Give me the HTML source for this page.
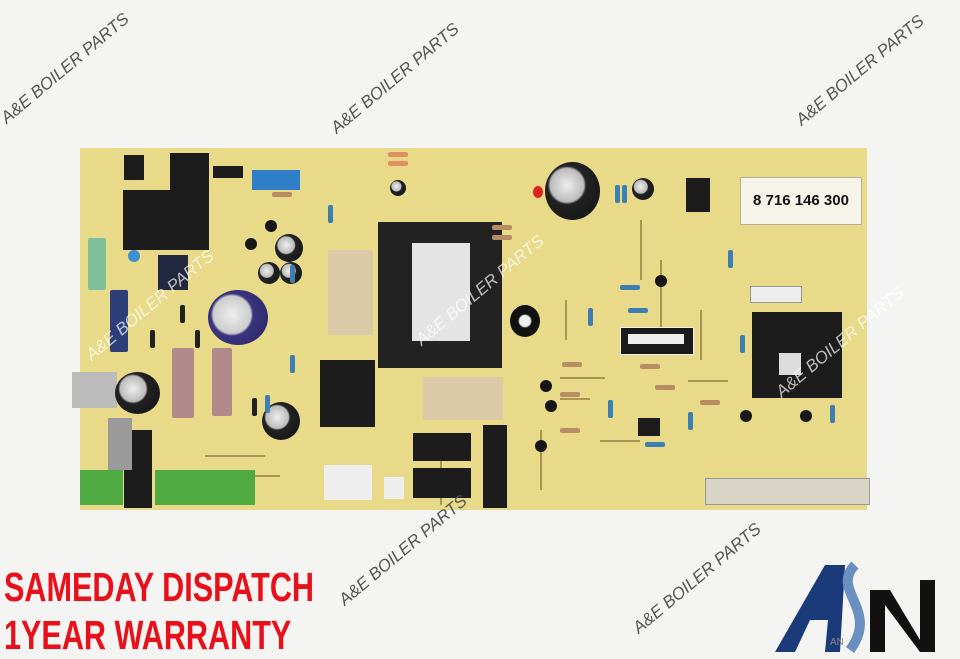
<!DOCTYPE html><html><head><meta charset="utf-8"><style>
*{margin:0;padding:0}
body{width:960px;height:659px;background:#f4f4f2;position:relative;overflow:hidden;font-family:"Liberation Sans",sans-serif}
.a{position:absolute}
.wm{position:absolute;color:#555;font-size:17px;transform:rotate(-40deg);transform-origin:left bottom;white-space:nowrap;font-style:italic}
.r{position:absolute;background:#c9b27a;border-radius:2px}
.rs{position:absolute;width:5px;height:18px;background:#3d7fb0;border-radius:2px}
.rh{position:absolute;width:20px;height:5px;background:#b88d64;border-radius:2px}
.ln{position:absolute;background:#a89550}
.bl{position:absolute;background:#1c1c1c}
.cap{position:absolute;border-radius:50%;background:radial-gradient(circle at 40% 40%,#eee 0,#bbb 35%,#222 40%,#111 100%)}
.tr{position:absolute;width:12px;height:12px;border-radius:50%;background:#161616}
.red{position:absolute;color:#e8101a;font-family:"Liberation Sans Narrow","Liberation Sans",sans-serif;font-weight:bold;font-size:36px;transform:scale(0.85,1.12);transform-origin:left top;white-space:nowrap}
</style></head><body>
<div class="a" style="left:80px;top:148px;width:787px;height:362px;background:#e8da88"></div>
<div class="ln" style="left:540px;top:430px;width:2px;height:60px"></div>
<div class="ln" style="left:600px;top:440px;width:40px;height:2px"></div>
<div class="ln" style="left:640px;top:220px;width:2px;height:60px"></div>
<div class="ln" style="left:660px;top:260px;width:2px;height:80px"></div>
<div class="ln" style="left:700px;top:310px;width:2px;height:50px"></div>
<div class="ln" style="left:205px;top:455px;width:60px;height:2px"></div>
<div class="ln" style="left:230px;top:475px;width:50px;height:2px"></div>
<div class="ln" style="left:560px;top:377px;width:45px;height:2px"></div>
<div class="ln" style="left:560px;top:398px;width:30px;height:2px"></div>
<div class="ln" style="left:688px;top:380px;width:40px;height:2px"></div>
<div class="ln" style="left:565px;top:300px;width:2px;height:40px"></div>
<div class="ln" style="left:440px;top:455px;width:2px;height:50px"></div>
<div class="a" style="left:740px;top:177px;width:120px;height:46px;background:#f6f3ea;border:1px solid #b8b09a;font-size:15px;font-weight:bold;color:#111;line-height:46px;text-align:center">8 716 146 300</div>
<div class="bl" style="left:686px;top:178px;width:24px;height:34px"></div>
<div class="bl" style="left:123px;top:190px;width:86px;height:60px"></div>
<div class="bl" style="left:170px;top:153px;width:39px;height:40px"></div>
<div class="bl" style="left:124px;top:155px;width:20px;height:25px"></div>
<div class="bl" style="left:158px;top:255px;width:30px;height:35px;background:#222840"></div>
<div class="bl" style="left:378px;top:222px;width:124px;height:146px;background:#222"></div>
<div class="a" style="left:412px;top:243px;width:58px;height:98px;background:#e4e4e4"></div>
<div class="bl" style="left:752px;top:312px;width:90px;height:86px"></div>
<div class="a" style="left:779px;top:353px;width:22px;height:22px;background:#ddd"></div>
<div class="bl" style="left:779px;top:375px;width:22px;height:18px"></div>
<div class="a" style="left:252px;top:170px;width:48px;height:20px;background:#2f7fc8"></div>
<div class="bl" style="left:213px;top:166px;width:30px;height:12px"></div>
<div class="bl" style="left:320px;top:360px;width:55px;height:67px"></div>
<div class="a" style="left:328px;top:250px;width:45px;height:85px;background:#dcc9a8"></div>
<div class="a" style="left:423px;top:377px;width:80px;height:43px;background:#dcc9a8"></div>
<div class="bl" style="left:413px;top:433px;width:58px;height:28px"></div>
<div class="bl" style="left:413px;top:468px;width:58px;height:30px"></div>
<div class="bl" style="left:483px;top:425px;width:24px;height:83px"></div>
<div class="a" style="left:620px;top:327px;width:72px;height:26px;background:#1a1a1a;border:1px solid #eee"></div>
<div class="a" style="left:628px;top:334px;width:56px;height:10px;background:#eee"></div>
<div class="a" style="left:510px;top:305px;width:30px;height:32px;border-radius:50%;background:radial-gradient(circle,#eee 0,#eee 25%,#111 32%)"></div>
<div class="bl" style="left:638px;top:418px;width:22px;height:18px"></div>
<div class="a" style="left:533px;top:186px;width:10px;height:12px;border-radius:50%;background:#d22"></div>
<div class="a" style="left:80px;top:470px;width:43px;height:35px;background:#4faa42"></div>
<div class="a" style="left:155px;top:470px;width:100px;height:35px;background:#4faa42"></div>
<div class="bl" style="left:124px;top:430px;width:28px;height:78px"></div>
<div class="a" style="left:108px;top:418px;width:24px;height:52px;background:#9a9a9a"></div>
<div class="a" style="left:72px;top:372px;width:45px;height:36px;background:#bbb"></div>
<div class="a" style="left:705px;top:478px;width:163px;height:25px;background:#d8d4c6;border:1px solid #999"></div>
<div class="a" style="left:750px;top:286px;width:50px;height:15px;background:#eee;border:1px solid #999"></div>
<div class="a" style="left:324px;top:465px;width:48px;height:35px;background:#eee"></div>
<div class="a" style="left:384px;top:477px;width:20px;height:22px;background:#eee"></div>
<div class="cap" style="left:208px;top:290px;width:60px;height:55px;background:radial-gradient(circle at 40% 45%,#eee 0,#ccc 40%,#3a3480 45%,#2a2460 100%)"></div>
<div class="cap" style="left:115px;top:372px;width:45px;height:42px"></div>
<div class="cap" style="left:262px;top:402px;width:38px;height:38px"></div>
<div class="cap" style="left:545px;top:162px;width:55px;height:58px"></div>
<div class="cap" style="left:275px;top:234px;width:28px;height:28px"></div>
<div class="cap" style="left:258px;top:262px;width:22px;height:22px"></div>
<div class="cap" style="left:280px;top:262px;width:22px;height:22px"></div>
<div class="cap" style="left:632px;top:178px;width:22px;height:22px"></div>
<div class="cap" style="left:390px;top:180px;width:16px;height:16px"></div>
<div class="tr" style="left:265px;top:220px"></div><div class="tr" style="left:245px;top:238px"></div>
<div class="tr" style="left:655px;top:275px"></div><div class="tr" style="left:540px;top:380px"></div>
<div class="tr" style="left:545px;top:400px"></div><div class="tr" style="left:535px;top:440px"></div>
<div class="tr" style="left:740px;top:410px"></div><div class="tr" style="left:800px;top:410px"></div>
<div class="r" style="left:172px;top:348px;width:22px;height:70px;background:#b08a8a"></div>
<div class="r" style="left:212px;top:348px;width:20px;height:68px;background:#b08a8a"></div>
<div class="r" style="left:88px;top:238px;width:18px;height:52px;background:#7fbf9a"></div>
<div class="r" style="left:110px;top:290px;width:18px;height:62px;background:#2d3e78"></div>
<div class="r" style="left:128px;top:250px;width:12px;height:12px;background:#3a90d0;border-radius:50%"></div>
<div class="rs" style="left:290px;top:265px"></div><div class="rs" style="left:328px;top:205px"></div>
<div class="rs" style="left:615px;top:185px"></div><div class="rs" style="left:622px;top:185px"></div>
<div class="rs" style="left:728px;top:250px"></div><div class="rs" style="left:740px;top:335px"></div>
<div class="rs" style="left:588px;top:308px"></div><div class="rs" style="left:608px;top:400px"></div>
<div class="rs" style="left:688px;top:412px"></div><div class="rs" style="left:830px;top:405px"></div>
<div class="rs" style="left:265px;top:395px"></div><div class="rs" style="left:290px;top:355px"></div>
<div class="rs" style="left:252px;top:398px;background:#222"></div><div class="rs" style="left:150px;top:330px;background:#222"></div>
<div class="rs" style="left:195px;top:330px;background:#222"></div><div class="rs" style="left:180px;top:305px;background:#222"></div>
<div class="rh" style="left:388px;top:152px;background:#e09060"></div><div class="rh" style="left:388px;top:161px;background:#e09060"></div>
<div class="rh" style="left:272px;top:192px"></div><div class="rh" style="left:492px;top:225px"></div><div class="rh" style="left:492px;top:235px"></div>
<div class="rh" style="left:620px;top:285px;background:#3d7fb0"></div><div class="rh" style="left:628px;top:308px;background:#3d7fb0"></div>
<div class="rh" style="left:562px;top:362px"></div><div class="rh" style="left:560px;top:392px"></div><div class="rh" style="left:560px;top:428px"></div>
<div class="rh" style="left:645px;top:442px;background:#3d7fb0"></div><div class="rh" style="left:700px;top:400px"></div>
<div class="rh" style="left:640px;top:364px"></div><div class="rh" style="left:655px;top:385px"></div>
<div class="wm" style="left:10px;top:108px">A&amp;E BOILER PARTS</div>
<div class="wm" style="left:340px;top:118px">A&amp;E BOILER PARTS</div>
<div class="wm" style="left:805px;top:110px">A&amp;E BOILER PARTS</div>
<div class="wm" style="left:95px;top:345px;color:rgba(255,255,255,.7)">A&amp;E BOILER PARTS</div>
<div class="wm" style="left:425px;top:330px;color:rgba(255,255,255,.7)">A&amp;E BOILER PARTS</div>
<div class="wm" style="left:785px;top:382px;color:rgba(255,255,255,.7)">A&amp;E BOILER PARTS</div>
<div class="wm" style="left:348px;top:590px">A&amp;E BOILER PARTS</div>
<div class="wm" style="left:642px;top:618px">A&amp;E BOILER PARTS</div>
<div class="red" style="left:4px;top:564px">SAMEDAY DISPATCH</div>
<div class="red" style="left:4px;top:612px">1YEAR WARRANTY</div>
<svg class="a" style="left:770px;top:560px" width="185" height="95">
<polygon points="5,92 55,5 75,5 70,92 55,92 58,60 40,60 25,92" fill="#1a3a7a"/>
<polygon points="100,30 120,30 150,80 150,20 165,20 165,92 150,92 115,45 115,92 100,92" fill="#111"/>
<path d="M85,5 C60,30 110,50 80,90" stroke="#6a8fc0" stroke-width="10" fill="none"/>
<text x="60" y="85" font-family="Liberation Sans" font-size="10" fill="#888">AN</text>
</svg>
</body></html>
